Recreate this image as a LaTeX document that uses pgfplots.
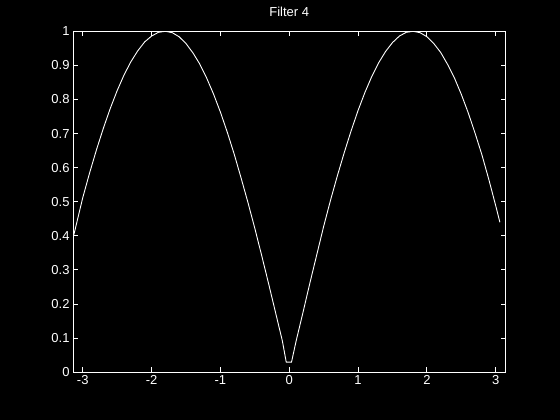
\documentclass[border=0pt]{standalone}
\usepackage{fontspec}
\setmainfont{Liberation Sans}
\usepackage{pgfplots}
\pgfplotsset{compat=1.18}
\begin{document}
\begin{tikzpicture}
\fill[black] (0,0) rectangle (560bp,420bp);
\useasboundingbox (0,0) rectangle (560bp,420bp);
\begin{axis}[
  at={(73bp,47.7bp)}, anchor=south west,
  scale only axis, width=432.5bp, height=341bp,
  xmin=-3.1416, xmax=3.1416, ymin=0, ymax=1,
  xtick={-3,-2,-1,0,1,2,3},
  ytick={0,0.1,0.2,0.3,0.4,0.5,0.6,0.7,0.8,0.9,1},
  axis line style={white, line width=1bp},
  tick style={white, line width=1bp},
  major tick length=5bp,
  tick align=inside,
  xtick pos=both, ytick pos=both,
  xticklabel pos=lower, yticklabel pos=left,
  /pgf/number format/assume math mode=true,
  ticklabel style={white, font=\fontsize{13bp}{15bp}\selectfont},
  yticklabel style={/pgf/number format/fixed},
  title={Filter 4},
  title style={white, font=\fontsize{13bp}{15bp}\selectfont, at={(0.5,1)}, anchor=base, yshift=9bp},
]
\addplot[white, line width=0.9bp] coordinates {
(-3.1416,0.393) (-3.0,0.512) (-2.9,0.585) (-2.8,0.653) (-2.7,0.716)
(-2.6,0.774) (-2.5,0.826) (-2.4,0.872) (-2.3,0.911) (-2.2,0.943)
(-2.1,0.969) (-2.0,0.986) (-1.9,0.997) (-1.8,1.000) (-1.7,0.996)
(-1.6,0.984) (-1.5,0.964) (-1.4,0.937) (-1.3,0.904) (-1.2,0.863)
(-1.1,0.816) (-1.0,0.763) (-0.9,0.704) (-0.8,0.640) (-0.7,0.570)
(-0.6,0.498) (-0.5,0.422) (-0.4,0.342) (-0.3,0.260) (-0.2,0.176)
(-0.1,0.092) (-0.044,0.030) (0.033,0.030) (0.1,0.092) (0.2,0.176)
(0.3,0.262) (0.4,0.345) (0.5,0.428) (0.6,0.505) (0.7,0.577)
(0.8,0.645) (0.9,0.709) (1.0,0.768) (1.1,0.821) (1.2,0.868)
(1.3,0.908) (1.4,0.941) (1.5,0.967) (1.6,0.986) (1.7,0.997)
(1.8,1.000) (1.9,0.996) (2.0,0.984) (2.1,0.964) (2.2,0.938)
(2.3,0.903) (2.4,0.863) (2.5,0.815) (2.6,0.761) (2.7,0.701)
(2.8,0.637) (2.9,0.565) (3.0,0.488) (3.06,0.440)
};
\end{axis}
\end{tikzpicture}
\end{document}
